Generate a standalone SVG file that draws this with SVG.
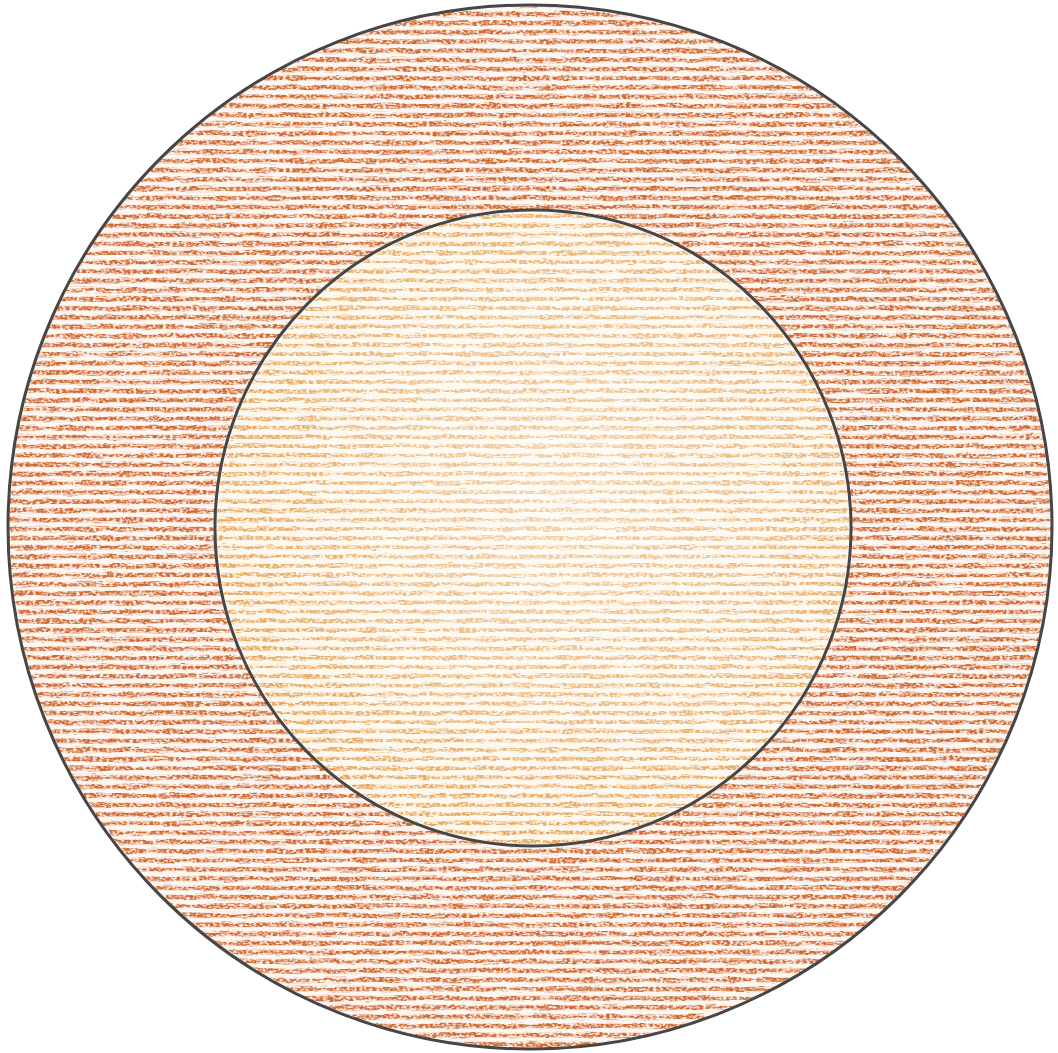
<svg xmlns="http://www.w3.org/2000/svg" width="1058" height="1053" viewBox="0 0 1058 1053">
<defs>
<pattern id="hatchOuter" patternUnits="userSpaceOnUse" width="1058" height="9.2">
<rect x="0" y="2.5" width="1058" height="4.3" fill="#cf6b34"/>
</pattern>
<pattern id="hatchInner" patternUnits="userSpaceOnUse" width="1058" height="9.2">
<rect x="0" y="2.6" width="1058" height="3.8" fill="#e5a052"/>
</pattern>
<radialGradient id="innerGlow" cx="0.55" cy="0.45" r="0.6">
<stop offset="0" stop-color="#fff" stop-opacity="0.5"/>
<stop offset="0.6" stop-color="#fff" stop-opacity="0.25"/>
<stop offset="1" stop-color="#fff" stop-opacity="0"/>
</radialGradient>
<filter id="crayon" x="0" y="0" width="1" height="1">
<feTurbulence type="fractalNoise" baseFrequency="0.05 0.4" numOctaves="2" seed="4" result="wob"/>
<feDisplacementMap in="SourceGraphic" in2="wob" scale="5" xChannelSelector="R" yChannelSelector="G" result="disp"/>
<feTurbulence type="fractalNoise" baseFrequency="0.3 0.45" numOctaves="2" seed="9" result="grain"/>
<feColorMatrix in="grain" type="matrix" values="0 0 0 0 0  0 0 0 0 0  0 0 0 0 0  0 0 0 3 -0.8" result="mask"/>
<feComposite in="disp" in2="mask" operator="in"/>
</filter>
</defs>
<rect width="1058" height="1053" fill="#ffffff"/>
<g id="outer-ring">
<circle cx="530" cy="527" r="521" fill="#f6dcc6" opacity="0.25"/>
<circle cx="530" cy="527" r="521" fill="url(#hatchOuter)" filter="url(#crayon)"/>
</g>
<g id="inner-disc">
<circle cx="533" cy="528" r="318" fill="#ffffff"/>
<circle cx="533" cy="528" r="316" fill="#fbedd2" opacity="0.4"/>
<circle cx="533" cy="528" r="316" fill="url(#hatchInner)" filter="url(#crayon)"/>
<circle cx="533" cy="528" r="316" fill="url(#innerGlow)"/>
</g>
<g id="outlines" fill="none" stroke="#464646" stroke-width="3">
<circle cx="530" cy="527" r="522"/>
<circle cx="533" cy="528" r="318"/>
</g>
</svg>
